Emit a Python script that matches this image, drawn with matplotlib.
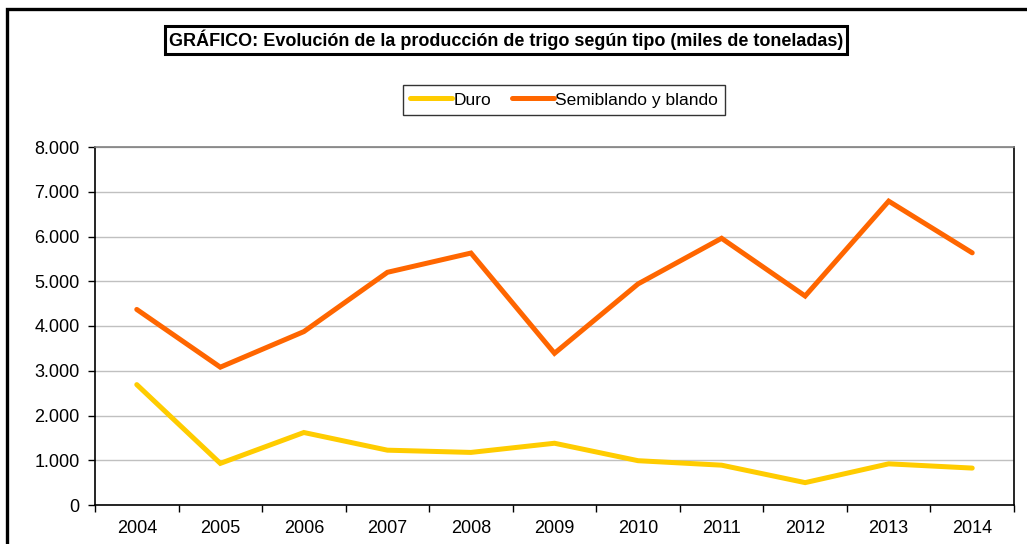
import matplotlib.pyplot as plt
from matplotlib.patches import Rectangle
from matplotlib.ticker import FuncFormatter, FixedLocator

plt.rcParams['font.family'] = ['Liberation Sans', 'DejaVu Sans']

years = ["2004", "2005", "2006", "2007", "2008", "2009",
         "2010", "2011", "2012", "2013", "2014"]
duro = [2690, 930, 1620, 1225, 1175, 1380, 990, 890, 500, 920, 825]
semiblando = [4370, 3080, 3875, 5200, 5630, 3390, 4940, 5960, 4670, 6790, 5635]

W, H = 1027, 544
fig = plt.figure(figsize=(W / 100, H / 100), dpi=100)

# axes placement in pixels: left 95, right 1014, top 147, bottom 505
ax = fig.add_axes([95 / W, 1 - 505 / H, (1014 - 95) / W, (505 - 147) / H])

x = list(range(len(years)))
ax.plot(x, duro, color="#FFCC00", lw=3.6, solid_capstyle="round",
        solid_joinstyle="miter", label="Duro", zorder=3)
ax.plot(x, semiblando, color="#FF6600", lw=3.6, solid_capstyle="round",
        solid_joinstyle="miter", label="Semiblando y blando", zorder=3)

ax.set_xlim(-0.5, len(years) - 0.5)
ax.set_ylim(0, 8000)
ax.set_yticks(range(0, 8001, 1000))
ax.yaxis.set_major_formatter(FuncFormatter(lambda v, p: f"{int(v):,}".replace(",", ".")))
ax.grid(axis="y", color="#c0c0c0", lw=1.0, zorder=0)

# category labels centred, ticks on category boundaries
ax.set_xticks([i - 0.5 for i in range(len(years) + 1)])
ax.set_xticklabels([])
ax.xaxis.set_minor_locator(FixedLocator(x))
ax.set_xticklabels(years, minor=True)
ax.tick_params(axis="x", which="minor", length=0, pad=11, labelsize=13)
ax.tick_params(axis="x", which="major", length=5, width=1, direction="out")
ax.tick_params(axis="y", length=5, width=1, direction="out", pad=6, labelsize=13)

for s in ["left", "bottom", "right"]:
    ax.spines[s].set_color("black")
    ax.spines[s].set_linewidth(1.2)
ax.spines["top"].set_color("#808080")
ax.spines["top"].set_linewidth(1.2)

# title in a framed box
fig.text(506 / W, 1 - 40 / H,
         "GRÁFICO: Evolución de la producción de trigo según tipo (miles de toneladas)",
         ha="center", va="center", fontsize=13, fontweight="bold",
         bbox=dict(boxstyle="square,pad=0.22", facecolor="white",
                   edgecolor="black", linewidth=2.2))

leg = fig.legend(loc="center", bbox_to_anchor=(564 / W, 1 - 100 / H), ncol=2,
                 fontsize=12.5, frameon=True, fancybox=False, edgecolor="black",
                 handlelength=2.4, handletextpad=0.1, columnspacing=1.2,
                 borderpad=0.4)
leg.get_frame().set_linewidth(1.0)

# outer chart frame (runs off the right and bottom edges)
fig.patches.append(Rectangle((7 / W, -0.1), 1.2, 1 - 9 / H + 0.1,
                             transform=fig.transFigure, fill=False,
                             edgecolor="black", linewidth=2.4))

fig.savefig("out.png", dpi=100)
